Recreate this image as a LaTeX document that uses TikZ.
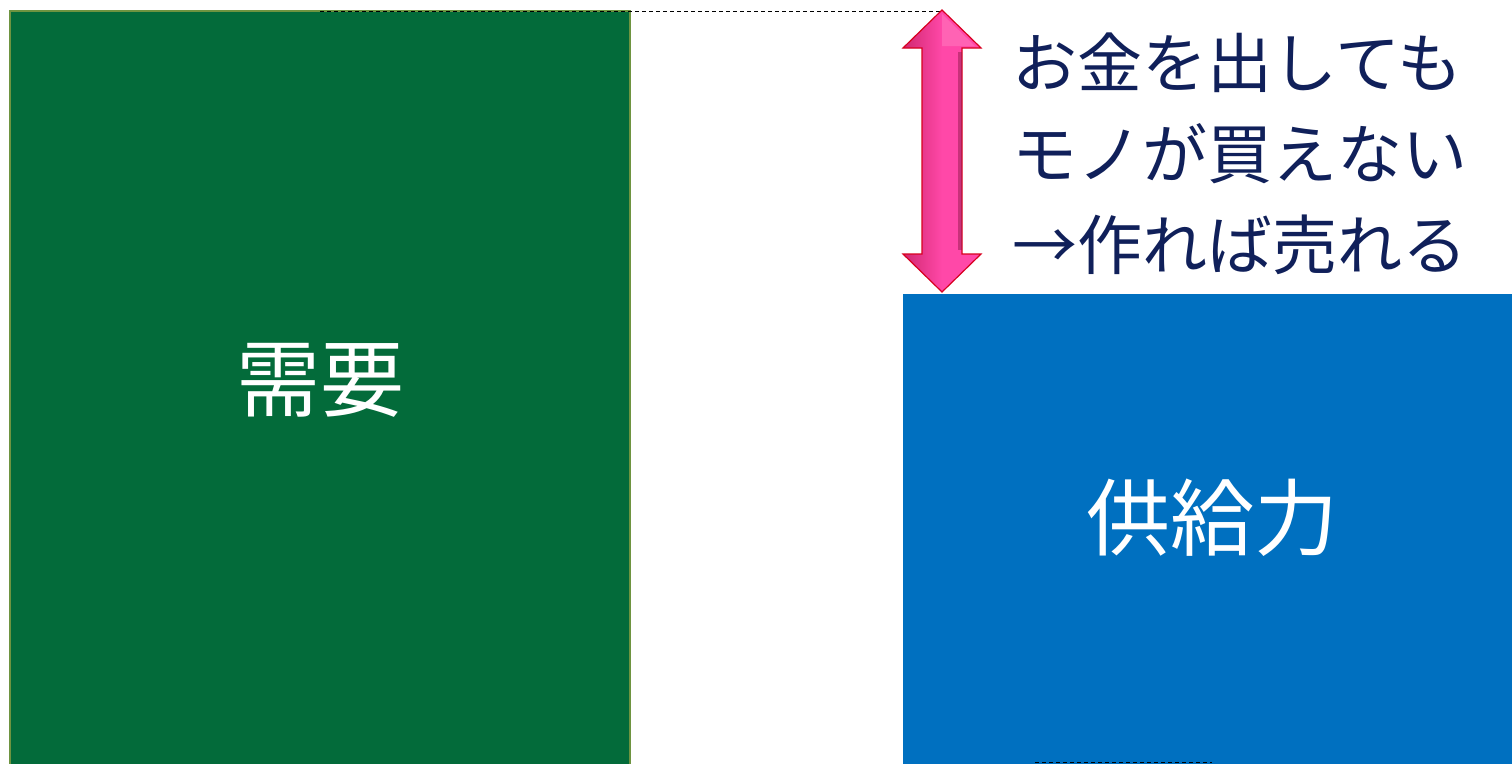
\documentclass[tikz,border=0pt]{standalone}
\usepackage{fontspec}
\newfontfamily\cjk{Noto Sans CJK JP}
\definecolor{dgreen}{HTML}{036B3A}
\definecolor{gborder}{HTML}{6E9440}
\definecolor{sblue}{HTML}{0070C0}
\definecolor{navy}{HTML}{10205A}
\definecolor{pinkA}{HTML}{D02870}
\definecolor{pinkB}{HTML}{FF48A8}
\definecolor{ared}{HTML}{D80020}
\tikzset{
  box/.style={inner sep=0pt, outer sep=0pt},
  bigtxt/.style={text=white, font=\cjk\fontsize{84}{90}\selectfont},
}
\begin{document}
\begin{tikzpicture}[x=1pt,y=-1pt]
\useasboundingbox (0,0) rectangle (1512,763);
\fill[white] (0,0) rectangle (1512,763);
% demand box
\draw[fill=dgreen, draw=gborder, line width=2pt] (10,11) rectangle (630,775);
\node[bigtxt] (dem) at (320,380) {需要};
% supply box
\fill[sblue] (903,294) rectangle (1512,775);
\node[bigtxt] (sup) at (1212,518) {供給力};
% dashed guide lines
\coordinate (dl) at (320,11);
\coordinate (dr) at (942,11);
\draw[dashed, line width=0.8pt, dash pattern=on 4pt off 3pt] (dl) -- (dr);
\coordinate (bl) at (1035,762);
\coordinate (br) at (1212,762);
\draw[dashed, line width=0.8pt, dash pattern=on 4pt off 3pt] (bl) -- (br);
% double arrow
\path[left color=pinkA, right color=pinkB, middle color=pinkB, draw=ared, line width=1.2pt, line join=miter]
  (942,10) -- (981,48) -- (962,48) -- (962,254) -- (981,254) -- (942,292)
  -- (903,254) -- (922,254) -- (922,48) -- (903,48) -- cycle;
\fill[pinkA!70!black, opacity=0.5] (958,52) rectangle (962,250);
\fill[white, opacity=0.15] (942,14) -- (975,46) -- (942,46) -- cycle;
% text
\node[anchor=north west, align=left, text=navy, inner sep=0pt,
      font=\cjk\fontsize{65}{91}\selectfont] (txt) at (1012,33)
  {お金を出しても\\モノが買えない\\→作れば売れる};
\end{tikzpicture}
\end{document}
